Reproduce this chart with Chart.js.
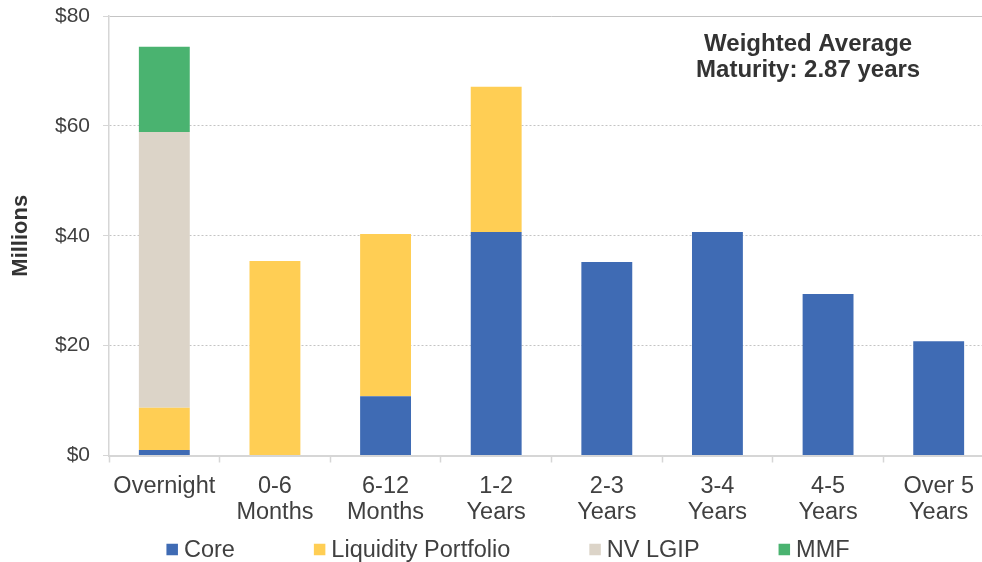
<!DOCTYPE html>
<html>
<head>
<meta charset="utf-8">
<script src="https://cdn.jsdelivr.net/npm/chart.js@4/dist/chart.umd.min.js"></script>
<style>
  html, body { margin: 0; padding: 0; background: #ffffff; overflow: hidden; }
  #wrap { width: 982px; height: 562px; overflow: hidden; position: relative; }
  canvas { display: block; position: absolute; left: 0; top: 0; }
</style>
</head>
<body>
<div id="wrap"><canvas id="chart" width="1000" height="562" style="width:1000px;height:562px"></canvas></div>
<script>
// Maturity buckets (x-axis categories)
const categories = [
  'Overnight',
  ['0-6', 'Months'],
  ['6-12', 'Months'],
  ['1-2', 'Years'],
  ['2-3', 'Years'],
  ['3-4', 'Years'],
  ['4-5', 'Years'],
  ['Over 5', 'Years']
];

// Holdings per bucket, $ millions
const coreValues      = [1.0, 0,    10.8, 40.7, 35.2, 40.7, 29.4, 20.8];
const liquidityValues = [7.7, 35.4, 29.5, 26.4, 0,    0,    0,    0];
const nvLgipValues    = [50.2, 0,   0,    0,    0,    0,    0,    0];
const mmfValues       = [15.5, 0,   0,    0,    0,    0,    0,    0];

// Y-axis ticks
const yTicks = [0, 20, 40, 60, 80];

const wamLines = ['Weighted Average', 'Maturity: 2.87 years'];

const FONT = '"Liberation Sans", Arial, sans-serif';
const TEXT = '#404040';
const AXIS = '#D6D6D6';

// Weighted-average-maturity note in the upper right of the plot
const wamLabel = {
  id: 'wamLabel',
  afterDraw(chart) {
    const {ctx, chartArea} = chart;
    const x = chartArea.left + (chartArea.right - chartArea.left) * 0.79;
    ctx.save();
    ctx.font = 'bold 24px ' + FONT;
    ctx.fillStyle = '#333333';
    ctx.textAlign = 'center';
    ctx.textBaseline = 'middle';
    ctx.fillText(wamLines[0], x, chartArea.top + 28);
    ctx.fillText(wamLines[1], x, chartArea.top + 54);
    ctx.restore();
  }
};

// Compact legend row: small square, short gap, label, wide gap between items
const rowLegend = {
  id: 'rowLegend',
  afterDraw(chart, args, opts) {
    const {ctx} = chart;
    const box = 11.5, textGap = 6, itemGap = 79;
    ctx.save();
    ctx.font = opts.fontSize + 'px ' + FONT;
    ctx.textBaseline = 'middle';
    ctx.textAlign = 'left';
    const items = chart.data.datasets.map(ds => ({
      text: ds.label, color: ds.backgroundColor, w: ctx.measureText(ds.label).width
    }));
    const total = items.reduce((s, it) => s + box + textGap + it.w, 0) + itemGap * (items.length - 1);
    let x = opts.centerX - total / 2;
    const y = opts.y;
    for (const it of items) {
      ctx.fillStyle = it.color;
      ctx.fillRect(x, y - box / 2, box, box);
      ctx.fillStyle = TEXT;
      ctx.fillText(it.text, x + box + textGap, y + 1);
      x += box + textGap + it.w + itemGap;
    }
    ctx.restore();
  }
};

new Chart(document.getElementById('chart'), {
  type: 'bar',
  data: {
    labels: categories,
    datasets: [
      { label: 'Core', data: coreValues, backgroundColor: '#3F6BB4' },
      { label: 'Liquidity Portfolio', data: liquidityValues, backgroundColor: '#FFCE54' },
      { label: 'NV LGIP', data: nvLgipValues, backgroundColor: '#DCD4C8' },
      { label: 'MMF', data: mmfValues, backgroundColor: '#4AB370' }
    ]
  },
  options: {
    responsive: false,
    animation: false,
    devicePixelRatio: 1,
    datasets: {
      bar: { barPercentage: 0.46, categoryPercentage: 1, borderWidth: 0 }
    },
    layout: { padding: { left: 0, right: 6, top: 16, bottom: 31.5 } },
    plugins: {
      tooltip: { enabled: false },
      legend: { display: false },
      rowLegend: { fontSize: 23.5, centerX: 508, y: 549.5 }
    },
    scales: {
      x: {
        stacked: true,
        afterFit(scale) { scale.height = 75; },
        grid: {
          drawOnChartArea: false,
          drawTicks: true,
          tickLength: 7,
          tickColor: AXIS,
          tickWidth: 1.5,
          offset: true
        },
        border: { display: true, color: AXIS, width: 2 },
        ticks: {
          color: TEXT,
          padding: 11.5,
          maxRotation: 0,
          autoSkip: false,
          font: { family: FONT, size: 23.5, lineHeight: 1.1 }
        }
      },
      y: {
        stacked: true,
        min: 0,
        max: 80,
        afterFit(scale) {
          scale.width = 109;
          scale.paddingTop = 0;
          scale.paddingBottom = 0;
        },
        afterBuildTicks(scale) { scale.ticks = yTicks.map(v => ({ value: v })); },
        grid: {
          color: '#C4C4C4',
          lineWidth: 1,
          tickLength: 6,
          tickColor: AXIS,
          drawTicks: true
        },
        border: {
          display: true,
          color: AXIS,
          width: 1.5,
          dash: (ctx) => (ctx.tick && ctx.tick.value === 80) ? [] : [2, 2]
        },
        ticks: {
          color: TEXT,
          padding: 13,
          font: { family: FONT, size: 21 },
          callback: (v) => '$' + v
        },
        title: {
          display: true,
          text: 'Millions',
          color: '#333333',
          font: { family: FONT, size: 22, weight: 'bold' },
          padding: { top: 8, bottom: 0 }
        }
      }
    }
  },
  plugins: [wamLabel, rowLegend]
});
</script>
</body>
</html>
